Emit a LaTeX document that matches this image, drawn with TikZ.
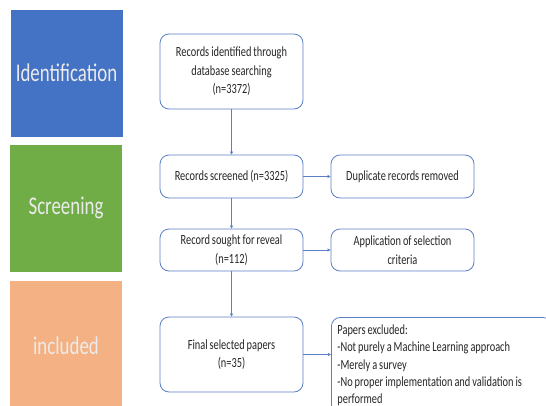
\documentclass[tikz,border=0pt]{standalone}
\usepackage{fontspec}
\setmainfont{Carlito}[FakeStretch=0.74,WordSpace=0.85]
\usetikzlibrary{arrows.meta}
\definecolor{idblue}{HTML}{4472C4}
\definecolor{scgreen}{HTML}{70AD47}
\definecolor{inorange}{HTML}{F4B183}
\definecolor{edgeblue}{HTML}{5B7FC4}
\begin{document}
\begin{tikzpicture}[x=1pt,y=-1pt,
    phase/.style={draw=white,line width=0.6pt,minimum width=113pt,text=white!92!black,font=\fontsize{25.5}{28}\selectfont},
    stage/.style={draw=edgeblue,line width=0.8pt,fill=white,rounded corners=9pt,minimum width=143pt,align=center,text=black!85,font=\fontsize{14}{18.5}\selectfont},
    link/.style={-{Triangle[length=3pt,width=3pt]},edgeblue,line width=0.6pt}]
    \clip (0,0) rectangle (546,405);
    % phases on the left
    \node[phase,fill=idblue,minimum height=128pt] (ident) at (66.5,73) {Identification};
    \node[phase,fill=scgreen,minimum height=128pt] (screen) at (66,208) {Screening};
    \node[phase,fill=inorange,minimum height=132pt] (incl) at (66,346) {included};
    % flow
    \node[stage,minimum height=75pt] (rec) at (231.5,71.5) {Records identified through\\database searching\\(n=3372)};
    \node[stage,minimum height=43pt] (scr) at (231.5,176.5) {Records screened (n=3325)};
    \node[stage,minimum height=43pt] (dup) at (402.5,176.5) {Duplicate records removed};
    \node[stage,minimum height=42pt] (sought) at (231.5,250) {Record sought for reveal\\(n=112)};
    \node[stage,minimum height=42pt] (appl) at (402.5,250) {Application of selection\\criteria};
    \node[stage,minimum height=75pt] (final) at (231.5,354.5) {Final selected papers\\(n=35)};
    \node[stage,anchor=north west,minimum width=0pt,text width=208pt,inner sep=6pt,minimum height=96pt,
        align=flush left,font=\fontsize{14}{17.3}\selectfont] (excl) at (331,317)
        {Papers excluded:\\-Not purely a Machine Learning approach\\-Merely a survey\\-No proper implementation and validation is\\performed};
    \draw[link] (rec) -- (scr);
    \draw[link] (scr) -- (dup);
    \draw[link] (scr) -- (sought);
    \draw[link] (sought) -- (appl);
    \draw[link] (sought) -- (final);
    \draw[link] (final) -- (final -| excl.west);
\end{tikzpicture}
\end{document}
